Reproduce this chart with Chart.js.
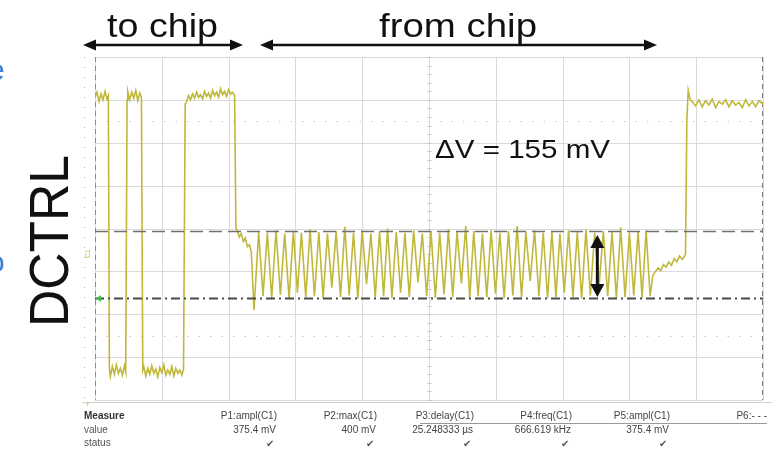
<!DOCTYPE html>
<html>
<head>
<meta charset="utf-8">
<script src="https://cdn.jsdelivr.net/npm/chart.js@4"></script>
<style>
  html, body { margin: 0; padding: 0; background: #fff; }
  canvas { display: block; }
</style>
</head>
<body>
<canvas id="scope" width="783" height="455"></canvas>
<script>
// time in µs (10 µs/div), voltage in mV (100 mV/div)
const timeTicks = [0, 10, 20, 30, 40, 50, 60, 70, 80, 90, 100];
const voltTicks = [-400, -300, -200, -100, 0, 100, 200, 300, 400];

// "to chip" part: two short pulses and a long one
const toChipTime = [0, 0.3, 0.6, 0.9, 1.2, 1.5, 1.8, 2.0,
    2.15, 2.3, 2.6, 2.9, 3.2, 3.5, 3.8, 4.1, 4.4, 4.6,
    4.8, 4.9, 5.2, 5.5, 5.8, 6.1, 6.4, 6.7, 6.95,
    7.15, 7.3, 7.6, 7.9, 8.2, 8.5, 8.8, 9.1, 9.4, 9.7, 10.0, 10.3, 10.6, 10.9, 11.2, 11.5, 11.8, 12.1, 12.4, 12.7, 13.0, 13.25,
    13.5, 13.7, 14.0, 14.3, 14.6, 14.9, 15.2, 15.5, 15.8, 16.1, 16.4, 16.7, 17.0, 17.3, 17.6, 17.9, 18.2, 18.5, 18.8, 19.1, 19.4, 19.7, 20.0, 20.3, 20.6,
    20.9, 21.1, 21.3, 21.6, 21.9, 22.2, 22.5, 22.8, 23.1, 23.4, 23.8];
const toChipMv = [305, 318, 296, 314, 300, 320, 302, 310,
    -325, -345, -322, -340, -318, -338, -326, -342, -320, -335,
    300, 320, 300, 318, 304, 322, 298, 316, 306,
    -330, -322, -344, -326, -340, -320, -338, -328, -346, -324, -336, -318, -342, -330, -340, -322, -344, -326, -338, -330, -342, -328,
    290, 296, 310, 300, 314, 304, 318, 306, 312, 302, 320, 308, 316, 304, 322, 310, 318, 306, 326, 312, 320, 308, 324, 314, 318,
    310, 0, -5, -20, -12, -30, -22, -42, -38, -55, -190];

// "from chip" part: peak / trough pairs
const fromChipTime = [24.5, 25.15, 25.8, 26.45, 27.1, 27.75, 28.4, 29.05, 29.7, 30.3,
    30.9, 31.55, 32.2, 32.85, 33.5, 34.15, 34.8, 35.45, 36.1, 36.75,
    37.4, 38.05, 38.7, 39.35, 40.0, 40.65, 41.3, 41.95, 42.6, 43.2,
    43.8, 44.45, 45.1, 45.75, 46.4, 47.05, 47.7, 48.35, 49.0, 49.65,
    50.3, 50.95, 51.6, 52.25, 52.9, 53.55, 54.2, 54.85, 55.5, 56.1,
    56.7, 57.35, 58.0, 58.65, 59.3, 59.95, 60.6, 61.25, 61.9, 62.55,
    63.2, 63.85, 64.5, 65.15, 65.8, 66.45, 67.1, 67.75, 68.4, 69.0,
    69.6, 70.25, 70.9, 71.55, 72.2, 72.85, 73.5, 74.15, 74.8, 75.45,
    76.1, 76.75, 77.4, 78.05, 78.7, 79.35, 80.0, 80.65, 81.3, 81.9,
    82.5, 83.1];
const fromChipMv = [-8, -158, -10, -162, -4, -155, -12, -164, -6, -150,
    -10, -160, -2, -158, -8, -162, -12, -138, -6, -160,
    4, -156, -10, -164, -4, -130, -12, -160, -6, -158,
    0, -162, -8, -150, -10, -160, -4, -126, -12, -158,
    -6, -162, -10, -154, -2, -160, -8, -128, 6, -164,
    -6, -158, -12, -160, -4, -152, -10, -162, -6, -156,
    6, -160, -8, -122, -4, -158, -10, -162, -6, -160,
    -12, -150, -4, -160, -8, -164, -2, -156, -10, -134,
    -6, -158, -8, -162, 2, -160, -10, -156, -6, -162,
    -4, -158];

// idle level then return to high
const tailTime = [83.5, 83.9, 84.3, 84.7, 85.1, 85.5, 85.9, 86.3, 86.7, 87.1, 87.5, 87.9, 88.2, 88.4,
    88.6, 88.8, 89.1, 89.4, 89.9, 90.4, 90.9, 91.4, 91.9, 92.4, 92.9, 93.4, 93.9, 94.4, 94.9, 95.4, 95.9, 96.4, 96.9, 97.4, 97.9, 98.4, 98.9, 99.4, 100];
const tailMv = [-110, -100, -92, -98, -84, -90, -78, -86, -70, -78, -64, -72, -66, -60,
    250, 322, 300, 296, 286, 300, 284, 298, 288, 302, 282, 296, 290, 300, 284, 298, 288, 294, 282, 300, 286, 296, 284, 298, 290];

const refLevelsMv = [-6, -162];      // dashed / dash-dot cursors
const dottedLevelsMv = [250, -250];
const deltaArrowTime = 75.2;

const measureNames = ['P1:ampl(C1)', 'P2:max(C1)', 'P3:delay(C1)', 'P4:freq(C1)', 'P5:ampl(C1)', 'P6:- - -'];
const measureValues = ['375.4 mV', '400 mV', '25.248333 µs', '666.619 kHz', '375.4 mV', ''];
const measureOk = [true, true, true, true, true, false];

const traceTime = toChipTime.concat(fromChipTime, tailTime);
const traceMv = toChipMv.concat(fromChipMv, tailMv);
const traceData = traceTime.map((t, i) => ({ x: t, y: traceMv[i] }));

const FONT = '"Liberation Sans", Arial, Helvetica, sans-serif';

function fitText(ctx, str, x, y, w) {
    const m = ctx.measureText(str).width;
    ctx.save();
    ctx.translate(x, y);
    ctx.scale(w / m, 1);
    ctx.fillText(str, 0, 0);
    ctx.restore();
}

function arrowHead(ctx, x, y, dir, len, half) {
    // dir: 1 right, -1 left
    ctx.beginPath();
    ctx.moveTo(x, y);
    ctx.lineTo(x - dir * len, y - half);
    ctx.lineTo(x - dir * len, y + half);
    ctx.closePath();
    ctx.fill();
}

function hArrow(ctx, x1, x2, y) {
    ctx.strokeStyle = '#111';
    ctx.fillStyle = '#111';
    ctx.lineWidth = 2.5;
    ctx.beginPath();
    ctx.moveTo(x1 + 8, y);
    ctx.lineTo(x2 - 8, y);
    ctx.stroke();
    arrowHead(ctx, x1, y, -1, 13, 5.5);
    arrowHead(ctx, x2, y, 1, 13, 5.5);
}

const gridPlugin = {
    id: 'scopeGrid',
    beforeDatasetsDraw(chart) {
        const ctx = chart.ctx;
        const xs = chart.scales.x, ys = chart.scales.y;
        const a = chart.chartArea;
        ctx.save();
        ctx.lineWidth = 1;
        ctx.strokeStyle = '#dadada';
        timeTicks.forEach(t => {
            const px = Math.round(xs.getPixelForValue(t)) + 0.5;
            ctx.beginPath(); ctx.moveTo(px, a.top); ctx.lineTo(px, a.bottom); ctx.stroke();
        });
        voltTicks.forEach(v => {
            const py = Math.round(ys.getPixelForValue(v)) + 0.5;
            ctx.beginPath(); ctx.moveTo(a.left, py); ctx.lineTo(a.right, py); ctx.stroke();
        });
        // minor ticks on the centre line
        ctx.strokeStyle = '#c4c4c4';
        const cx = Math.round(xs.getPixelForValue(50)) + 0.5;
        for (let v = -400; v <= 400; v += 20) {
            const py = Math.round(ys.getPixelForValue(v)) + 0.5;
            ctx.beginPath(); ctx.moveTo(cx - 2, py); ctx.lineTo(cx + 2, py); ctx.stroke();
        }
        // dotted levels
        ctx.setLineDash([1.5, 10]);
        ctx.strokeStyle = '#c4c4c4';
        dottedLevelsMv.forEach(v => {
            const py = Math.round(ys.getPixelForValue(v)) + 0.5;
            ctx.beginPath(); ctx.moveTo(a.left, py); ctx.lineTo(a.right, py); ctx.stroke();
        });
        // left / right borders dashed
        ctx.setLineDash([5, 4]);
        ctx.strokeStyle = '#8a8a8a';
        ctx.beginPath(); ctx.moveTo(a.left + 0.5, a.top); ctx.lineTo(a.left + 0.5, a.bottom); ctx.stroke();
        ctx.strokeStyle = '#777';
        ctx.beginPath(); ctx.moveTo(a.right - 0.5, a.top); ctx.lineTo(a.right - 0.5, a.bottom); ctx.stroke();
        // tick dots left of the frame
        ctx.setLineDash([1, 9]);
        ctx.strokeStyle = '#aaa';
        ctx.beginPath(); ctx.moveTo(84.5, a.top); ctx.lineTo(84.5, a.bottom); ctx.stroke();
        ctx.restore();
    },
    afterDatasetsDraw(chart) {
        const ctx = chart.ctx;
        const xs = chart.scales.x, ys = chart.scales.y;
        const a = chart.chartArea;
        ctx.save();
        // cursors
        const yDash = Math.round(ys.getPixelForValue(refLevelsMv[0])) + 0.5;
        const yDot = Math.round(ys.getPixelForValue(refLevelsMv[1])) + 0.5;
        ctx.lineWidth = 1.5;
        ctx.strokeStyle = '#707070';
        ctx.setLineDash([13, 6]);
        ctx.beginPath(); ctx.moveTo(a.left, yDash); ctx.lineTo(a.right, yDash); ctx.stroke();
        ctx.lineWidth = 2;
        ctx.strokeStyle = '#4a4a4a';
        ctx.setLineDash([9, 4, 2, 4]);
        ctx.beginPath(); ctx.moveTo(a.left, yDot); ctx.lineTo(a.right, yDot); ctx.stroke();
        ctx.setLineDash([]);

        // green ground marker and C1 label
        ctx.fillStyle = '#3cc24a';
        ctx.beginPath();
        ctx.moveTo(a.left + 1, yDot); ctx.lineTo(a.left + 6, yDot - 3.5); ctx.lineTo(a.left + 6, yDot + 3.5);
        ctx.closePath(); ctx.fill();
        ctx.save();
        ctx.translate(90, 258);
        ctx.rotate(-Math.PI / 2);
        ctx.fillStyle = '#c8bf3c';
        ctx.font = '7px ' + FONT;
        ctx.fillText('C1', 0, 0);
        ctx.restore();
        ctx.fillStyle = '#d8c84a';
        ctx.font = '9px ' + FONT;
        ctx.fillText('+', 85, 407);

        // delta V arrow
        const ax = xs.getPixelForValue(deltaArrowTime);
        const ay1 = ys.getPixelForValue(refLevelsMv[0]) + 4;
        const ay2 = ys.getPixelForValue(refLevelsMv[1]) - 1;
        ctx.strokeStyle = '#111';
        ctx.fillStyle = '#111';
        ctx.lineWidth = 3;
        ctx.beginPath(); ctx.moveTo(ax, ay1 + 10); ctx.lineTo(ax, ay2 - 10); ctx.stroke();
        ctx.beginPath(); ctx.moveTo(ax, ay1); ctx.lineTo(ax - 7, ay1 + 13); ctx.lineTo(ax + 7, ay1 + 13); ctx.closePath(); ctx.fill();
        ctx.beginPath(); ctx.moveTo(ax, ay2); ctx.lineTo(ax - 7, ay2 - 13); ctx.lineTo(ax + 7, ay2 - 13); ctx.closePath(); ctx.fill();

        // delta V label
        ctx.fillStyle = '#111';
        ctx.font = '25px ' + FONT;
        ctx.textBaseline = 'alphabetic';
        fitText(ctx, 'ΔV = 155 mV', 435, 158, 175);

        // top labels and arrows
        ctx.font = '33px ' + FONT;
        fitText(ctx, 'to chip', 107, 37, 111);
        fitText(ctx, 'from chip', 379, 37, 158);
        hArrow(ctx, 83, 243, 45);
        hArrow(ctx, 260, 657, 45);

        // DCTRL
        ctx.save();
        ctx.translate(68, 327);
        ctx.rotate(-Math.PI / 2);
        ctx.fillStyle = '#111';
        ctx.font = '55px ' + FONT;
        fitText(ctx, 'DCTRL', 0, 0, 172);
        ctx.restore();

        // clipped blue text at left edge
        ctx.fillStyle = '#3d7fd0';
        ctx.font = '30px ' + FONT;
        ctx.fillText('e', -12, 80);
        ctx.fillText('o', -12, 272);

        // measurement table
        ctx.strokeStyle = '#d0d0d0';
        ctx.lineWidth = 1;
        ctx.beginPath(); ctx.moveTo(82, 402.5); ctx.lineTo(772, 402.5); ctx.stroke();
        ctx.strokeStyle = '#9a9a9a';
        ctx.beginPath(); ctx.moveTo(420, 423.5); ctx.lineTo(767, 423.5); ctx.stroke();
        ctx.fillStyle = '#333';
        ctx.font = 'bold 10px ' + FONT;
        ctx.textAlign = 'left';
        ctx.fillText('Measure', 84, 419);
        ctx.font = '10px ' + FONT;
        ctx.fillStyle = '#555';
        ctx.fillText('value', 84, 433);
        ctx.fillText('status', 84, 446);
        const colRight = [277, 377, 474, 572, 670, 767];
        ctx.textAlign = 'right';
        measureNames.forEach((n, i) => {
            ctx.fillStyle = '#444';
            ctx.fillText(n, colRight[i], 419);
            ctx.fillText(measureValues[i], colRight[i] - 1, 433);
            if (measureOk[i]) {
                ctx.fillStyle = '#555';
                ctx.textAlign = 'center';
                ctx.fillText('✔', colRight[i] - 7, 447);
                ctx.textAlign = 'right';
            }
        });
        ctx.restore();
    }
};

new Chart(document.getElementById('scope'), {
    type: 'line',
    data: {
        datasets: [{
            label: 'C1',
            data: traceData,
            borderColor: 'rgb(192,184,58)',
            borderWidth: 1.6,
            pointRadius: 0,
            tension: 0,
            fill: false
        }]
    },
    options: {
        responsive: false,
        animation: false,
        devicePixelRatio: 1,
        layout: { padding: { left: 95, right: 20, top: 57, bottom: 55 } },
        plugins: { legend: { display: false }, tooltip: { enabled: false } },
        scales: {
            x: { type: 'linear', display: false, min: 0, max: 100 },
            y: { type: 'linear', display: false, min: -400, max: 400 }
        }
    },
    plugins: [gridPlugin]
});
</script>
</body>
</html>
